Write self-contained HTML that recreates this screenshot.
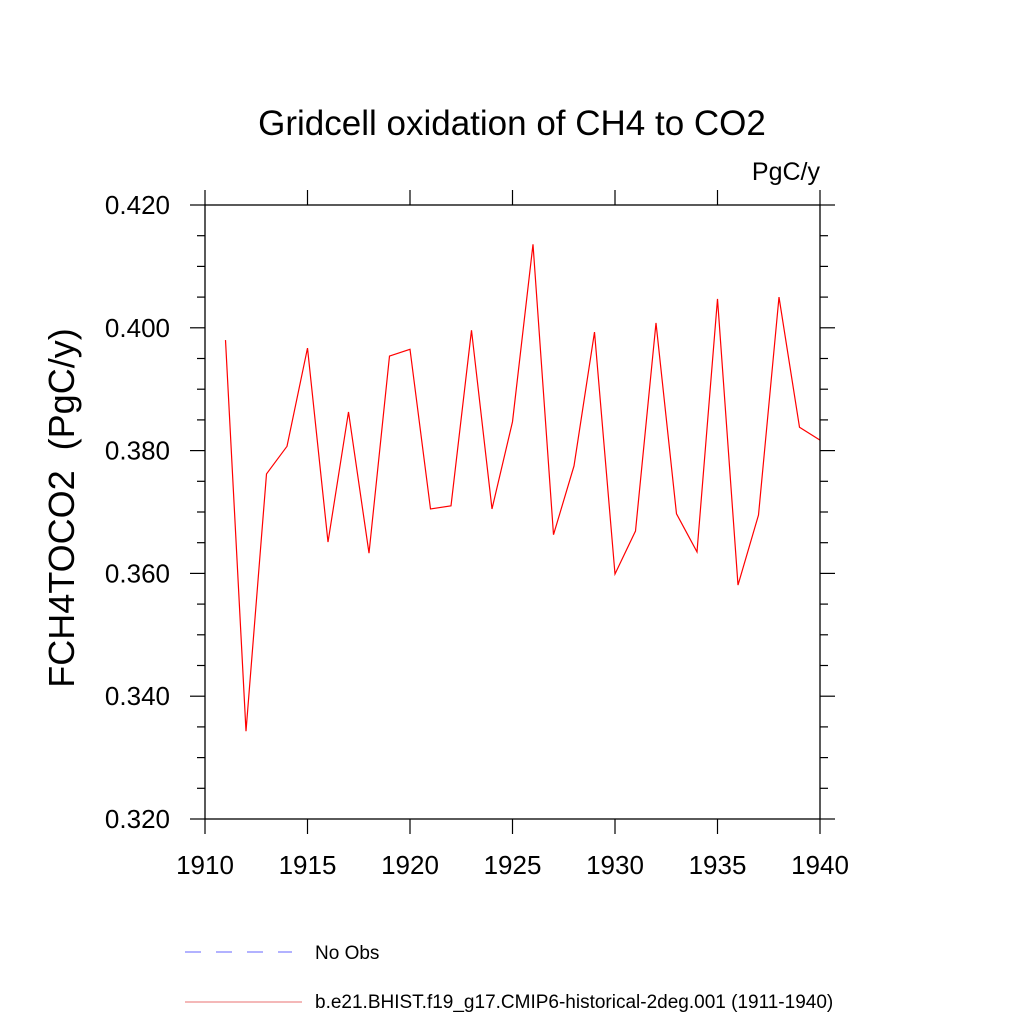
<!DOCTYPE html>
<html><head><meta charset="utf-8"><style>
body{margin:0;background:#fff}
svg{display:block;font-family:"Liberation Sans",sans-serif}
</style></head><body>
<svg id="chart" width="1024" height="1024" viewBox="0 0 1024 1024">
<rect width="1024" height="1024" fill="#fff"/>
<text x="512" y="135" font-size="35" text-anchor="middle">Gridcell oxidation of CH4 to CO2</text>
<text x="820" y="180" font-size="25" text-anchor="end">PgC/y</text>
<text transform="translate(74,508) rotate(-90)" font-size="36" text-anchor="middle">FCH4TOCO2&#160; (PgC/y)</text>
<g id="axes"></g>
<polyline id="series" fill="none" stroke="#ff0000" stroke-width="1.2"/>
<rect x="205" y="205" width="615" height="614" fill="none" stroke="#000" stroke-width="1.3"/>
<g>
<line x1="185" y1="952" x2="292" y2="952" stroke="#6666ff" stroke-width="1" stroke-dasharray="16,15"/>
<text x="315" y="959" font-size="19">No Obs</text>
<line x1="185" y1="1002" x2="302" y2="1002" stroke="#e87070" stroke-width="1"/>
<text x="315" y="1008" font-size="19">b.e21.BHIST.f19_g17.CMIP6-historical-2deg.001 (1911-1940)</text>
</g>
</svg>
<script>
const years=[1911,1912,1913,1914,1915,1916,1917,1918,1919,1920,1921,1922,1923,1924,1925,1926,1927,1928,1929,1930,1931,1932,1933,1934,1935,1936,1937,1938,1939,1940];
const values=[0.3980,0.3343,0.3762,0.3807,0.3967,0.3651,0.3863,0.3633,0.3954,0.3965,0.3705,0.3710,0.3996,0.3705,0.3847,0.4136,0.3663,0.3775,0.3993,0.3599,0.3669,0.4008,0.3697,0.3635,0.4047,0.3581,0.3695,0.4050,0.3838,0.3817];
const xTicks=[1910,1915,1920,1925,1930,1935,1940];
const yTicks=["0.320","0.340","0.360","0.380","0.400","0.420"];
const X0=205,X1=820,Y0=819,Y1=205;
const xs=v=>X0+(v-1910)/30*(X1-X0);
const ys=v=>Y0-(v-0.32)/0.1*(Y0-Y1);
const NS="http://www.w3.org/2000/svg";
const ax=document.getElementById('axes');
function ln(x1,y1,x2,y2,name){const l=document.createElementNS(NS,'line');
l.setAttribute('x1',x1);l.setAttribute('y1',y1);l.setAttribute('x2',x2);l.setAttribute('y2',y2);
l.setAttribute('stroke','#000');l.setAttribute('stroke-width','1.2');


ax.appendChild(l);}
function tx(x,y,s,anchor,name){const t=document.createElementNS(NS,'text');
t.setAttribute('x',x);t.setAttribute('y',y);t.setAttribute('font-size','26');t.setAttribute('text-anchor',anchor);t.textContent=s;


ax.appendChild(t);}
xTicks.forEach(v=>{const x=xs(v);ln(x,Y0,x,Y0+15,'x-tick');ln(x,Y1,x,Y1-15,'x-tick-top');});
xTicks.forEach(v=>tx(xs(v),Y0+55,String(v),'middle','x-tick-label'));
for(let i=0;i<=20;i++){const v=0.32+i*0.005;const y=ys(v);const L=i%4==0?15:8;
ln(X0,y,X0-L,y,'y-tick');ln(X1,y,X1+L,y,'y-tick-right');}
yTicks.forEach(s=>tx(170,ys(parseFloat(s))+9,s,'end','y-tick-label'));
document.getElementById('series').setAttribute('points',years.map((y,i)=>xs(y)+','+ys(values[i])).join(' '));
</script>
</body></html>
